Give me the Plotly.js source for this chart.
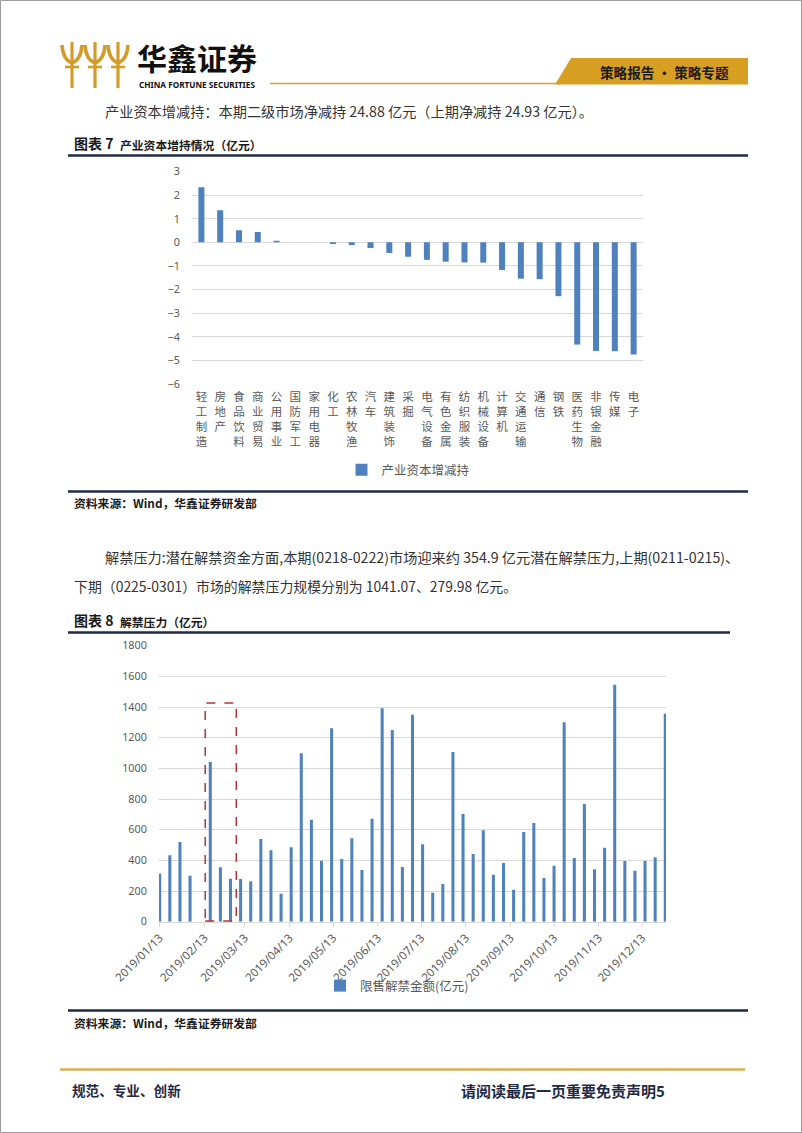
<!DOCTYPE html>
<html><head><meta charset="utf-8">
<script src="https://cdn.plot.ly/plotly-3.0.1.min.js"></script>
<style>html,body{margin:0;padding:0;background:#fff}#page{width:802px;height:1133px}</style>
</head><body><div id="page"></div>
<script>
// ---------- data: 图表7 ----------
const industries = ['轻工制造','房地产','食品饮料','商业贸易','公用事业','国防军工','家用电器','化工','农林牧渔','汽车','建筑装饰','采掘','电气设备','有色金属','纺织服装','机械设备','计算机','交通运输','通信','钢铁','医药生物','非银金融','传媒','电子'];
const capitalChange = [2.33,1.36,0.51,0.44,0.07,0,0,-0.07,-0.11,-0.24,-0.45,-0.61,-0.74,-0.82,-0.85,-0.86,-1.17,-1.54,-1.56,-2.28,-4.33,-4.60,-4.61,-4.75];
const chart7YTicks = [3,2,1,0,-1,-2,-3,-4,-5,-6];
const chart7Legend = '产业资本增减持';

// ---------- data: 图表8 ----------
const unlockDates = ['2019-01-13','2019-01-20','2019-01-27','2019-02-03','2019-02-10','2019-02-17','2019-02-24','2019-03-03','2019-03-10','2019-03-17','2019-03-24','2019-03-31','2019-04-07','2019-04-14','2019-04-21','2019-04-28','2019-05-05','2019-05-12','2019-05-19','2019-05-26','2019-06-02','2019-06-09','2019-06-16','2019-06-23','2019-06-30','2019-07-07','2019-07-14','2019-07-21','2019-07-28','2019-08-04','2019-08-11','2019-08-18','2019-08-25','2019-09-01','2019-09-08','2019-09-15','2019-09-22','2019-09-29','2019-10-06','2019-10-13','2019-10-20','2019-10-27','2019-11-03','2019-11-10','2019-11-17','2019-11-24','2019-12-01','2019-12-08','2019-12-15','2019-12-22','2019-12-29'];
const unlockValues = [315,433,520,300,null,1041.07,354.9,279.98,278,263,540,466,183,485,1098,665,398,1261,409,544,337,672,1392,1250,357,1350,505,189,246,1107,703,442,596,307,383,209,585,644,285,365,1301,416,768,342,483,1546,396,333,396,420,1357];
const dateTickVals = ['2019-01-13','2019-02-13','2019-03-13','2019-04-13','2019-05-13','2019-06-13','2019-07-13','2019-08-13','2019-09-13','2019-10-13','2019-11-13','2019-12-13'];
const dateTickText = ['2019/01/13','2019/02/13','2019/03/13','2019/04/13','2019/05/13','2019/06/13','2019/07/13','2019/08/13','2019/09/13','2019/10/13','2019/11/13','2019/12/13'];
const chart8YTicks = [0,200,400,600,800,1000,1200,1400,1600,1800];
const chart8Legend = '限售解禁金额(亿元)';

// ---------- page geometry helpers ----------
const W = 802, H = 1133;
const fx = p => p / W;
const fy = p => 1 - p / H;
const CJK = '"Noto Sans CJK SC", "Noto Sans", sans-serif';
const LAT = '"Noto Sans", "Liberation Sans", sans-serif';
const NAVY = '#1F2A44';
const GOLD = '#D7A023';
const GREY = '#595959';
const BLUE = '#4F81BD';

function pathPx(s) {
  return s.replace(/(-?[\d.]+),(-?[\d.]+)/g, (m, a, b) => fx(+a).toFixed(5) + ',' + fy(+b).toFixed(5));
}
function hline(x0, x1, y, color, width) {
  return {type:'line', xref:'paper', yref:'paper', x0:fx(x0), x1:fx(x1), y0:fy(y), y1:fy(y), line:{color:color, width:width}};
}
function txt(text, x, y, size, opts) {
  opts = opts || {};
  return Object.assign({text:text, xref:'paper', yref:'paper', x:fx(x), y:fy(y), xanchor:'left', yanchor:'middle', showarrow:false,
    font:{family:CJK, size:size, color:'#222'}}, opts, {font:Object.assign({family:CJK, size:size, color:'#222'}, opts.font||{})});
}

// ---------- traces ----------
const ticks7 = industries.map(s => s.split('').join('<br>'));
const traces = [
  {type:'bar', x:industries, y:capitalChange, name:chart7Legend, marker:{color:BLUE}, xaxis:'x', yaxis:'y', legend:'legend', hoverinfo:'x+y'},
  {type:'bar', x:unlockDates, y:unlockValues, name:chart8Legend, marker:{color:BLUE}, xaxis:'x2', yaxis:'y2', legend:'legend2', hoverinfo:'x+y'}
];
// bar width for chart 8 (≈2.1 days out of each weekly slot)
traces[1].width = unlockDates.map(() => 2.1 * 86400000);

// ---------- shapes ----------
const shapes = [
  {type:'rect', xref:'paper', yref:'paper', x0:0.0006, x1:0.9994, y0:0.0004, y1:0.9996, line:{color:'#9a9a9a', width:1}},
  hline(270, 560, 83.5, GOLD, 1.5),
  {type:'path', xref:'paper', yref:'paper', path:pathPx('M555,84.5 L571,58 L748,58 L748,84.5 Z'), fillcolor:GOLD, line:{width:0}},
  hline(68, 748, 155.5, NAVY, 2.5),
  hline(68, 748, 491.5, NAVY, 2.5),
  hline(68, 730, 632.5, NAVY, 2.5),
  hline(68, 748, 1010.5, NAVY, 2.5),
  hline(60, 745, 1069.5, '#D9AE55', 2.5),
  // red dashed highlight box in 图表8
  {type:'rect', xref:'x2', yref:'paper', x0:'2019-02-13 12:00', x1:'2019-03-07', y0:fy(921), y1:fy(703), line:{color:'#B5343A', width:1.5, dash:'dash'}}
];
[72, 95, 118].forEach(cx => {
  const st = {color:'#D39B2A', width:3.6};
  shapes.push({type:'path', xref:'paper', yref:'paper', path:pathPx(`M${cx-10},45 Q${cx-9},60 ${cx},63`), line:st});
  shapes.push({type:'path', xref:'paper', yref:'paper', path:pathPx(`M${cx+10},45 Q${cx+9},60 ${cx},63`), line:st});
  shapes.push({type:'path', xref:'paper', yref:'paper', path:pathPx(`M${cx},42 L${cx},88`), line:{color:'#D39B2A', width:3.2}});
  shapes.push({type:'path', xref:'paper', yref:'paper', path:pathPx(`M${cx-7},67 L${cx+7},67`), line:{color:'#D39B2A', width:2.6}});
});

// ---------- annotations ----------
const annotations = [
  txt('<b>华鑫证券</b>', 135, 56.5, 30, {font:{color:'#111'}}),
  txt('<b>CHINA FORTUNE SECURITIES</b>', 137, 84.5, 8.2, {font:{family:LAT, color:'#111'}}),
  txt('<b>策略报告 • 策略专题</b>', 664, 72, 13.6, {xanchor:'center', font:{color:'#1a1a1a'}}),
  txt('产业资本增减持：本期二级市场净减持 24.88 亿元（上期净减持 24.93 亿元）。', 103, 111, 14.2, {font:{color:'#333'}}),
  txt('<b>图表 7</b>', 72, 143, 14, {font:{color:'#1a1a1a'}}),
  txt('<b>产业资本增持情况（亿元）</b>', 118, 144, 11.8, {font:{color:'#1a1a1a'}}),
  txt('<b>资料来源：Wind，华鑫证券研发部</b>', 72, 503, 11.8, {font:{color:'#1a1a1a'}}),
  txt('解禁压力:潜在解禁资金方面,本期(0218-0222)市场迎来约 354.9 亿元潜在解禁压力,上期(0211-0215)、', 103, 557, 14.2, {font:{color:'#333'}}),
  txt('下期（0225-0301）市场的解禁压力规模分别为 1041.07、279.98 亿元。', 72, 586, 13.9, {font:{color:'#333'}}),
  txt('<b>图表 8</b>', 72, 620, 14, {font:{color:'#1a1a1a'}}),
  txt('<b>解禁压力（亿元）</b>', 118, 621, 11.8, {font:{color:'#1a1a1a'}}),
  txt('<b>资料来源：Wind，华鑫证券研发部</b>', 72, 1022, 11.8, {font:{color:'#1a1a1a'}}),
  txt('<b>规范、专业、创新</b>', 70, 1090, 13.6, {font:{color:NAVY}}),
  txt('<b>请阅读最后一页重要免责声明5</b>', 667, 1090, 15, {xanchor:'right', font:{color:NAVY}})
];

// ---------- layout ----------
const tickFont = {family:LAT, size:10.8, color:GREY};
const layout = {
  width:W, height:H, margin:{l:0, r:0, t:0, b:0},
  paper_bgcolor:'#fff', plot_bgcolor:'rgba(0,0,0,0)',
  bargap:0.68, showlegend:true,
  xaxis:{domain:[fx(192), fx(643)], anchor:'y', type:'category', tickmode:'array', tickvals:industries, ticktext:ticks7,
    tickangle:0, tickfont:{family:CJK, size:11.5, color:GREY}, showgrid:false, showline:false, zeroline:false, ticks:'outside', ticklen:2, tickcolor:'rgba(0,0,0,0)'},
  yaxis:{domain:[fy(384), fy(171.5)], anchor:'x', range:[-6, 3], tickmode:'array', tickvals:chart7YTicks,
    tickfont:tickFont, gridcolor:'#D9D9D9', gridwidth:1, zeroline:false, showline:false, ticks:'outside', ticklen:9, tickcolor:'rgba(0,0,0,0)'},
  xaxis2:{domain:[fx(159), fx(666)], anchor:'y2', type:'date', range:['2019-01-12 12:00','2019-12-29 12:00'],
    tickmode:'array', tickvals:dateTickVals, ticktext:dateTickText, tickangle:-45, tickfont:{family:LAT, size:11.6, color:GREY},
    showgrid:false, showline:true, linecolor:'#D9D9D9', linewidth:1, zeroline:false, ticks:'outside', ticklen:4, tickcolor:'#D9D9D9'},
  yaxis2:{domain:[fy(921.7), fy(645.7)], anchor:'x2', range:[0, 1800], tickmode:'array', tickvals:chart8YTicks,
    tickfont:tickFont, gridcolor:'#D9D9D9', gridwidth:1, zeroline:false, showline:false, ticks:'outside', ticklen:9, tickcolor:'rgba(0,0,0,0)'},
  legend:{x:fx(408), y:fy(470), xanchor:'center', yanchor:'middle', orientation:'h', bgcolor:'rgba(0,0,0,0)', itemwidth:30,
    font:{family:CJK, size:12.5, color:GREY}},
  legend2:{x:fx(397), y:fy(986), xanchor:'center', yanchor:'middle', orientation:'h', bgcolor:'rgba(0,0,0,0)', itemwidth:30,
    font:{family:CJK, size:12.5, color:GREY}},
  shapes:shapes, annotations:annotations
};

Plotly.newPlot('page', traces, layout, {displayModeBar:false, staticPlot:true});
</script></body></html>
